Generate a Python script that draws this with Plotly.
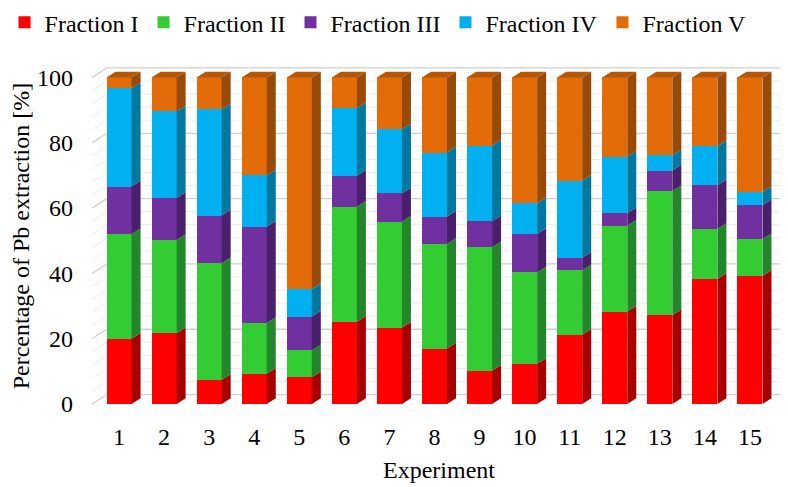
import plotly.graph_objects as go

experiments = list(range(1, 16))
fraction_names = ["Fraction I", "Fraction II", "Fraction III", "Fraction IV", "Fraction V"]

frac_I   = [20.0, 21.7, 7.4, 9.3, 8.2, 25.2, 23.4, 17.0, 10.2, 12.3, 21.2, 28.3, 27.2, 38.3, 39.2]
frac_II  = [32.0, 28.5, 35.7, 15.5, 8.2, 35.2, 32.4, 32.0, 37.8, 28.0, 19.7, 26.3, 38.0, 15.3, 11.3]
frac_III = [14.6, 12.9, 14.6, 29.5, 10.4, 9.5, 8.7, 8.4, 8.0, 11.8, 3.9, 3.8, 6.3, 13.4, 10.4]
frac_IV  = [30.1, 26.5, 32.5, 15.7, 8.4, 20.7, 19.6, 19.6, 23.1, 9.4, 23.6, 17.3, 4.7, 11.9, 4.0]
frac_V   = [3.3, 10.4, 9.8, 30.0, 64.8, 9.4, 15.9, 23.0, 20.9, 38.5, 31.6, 24.3, 23.8, 21.1, 35.1]

y_ticks = [0, 20, 40, 60, 80, 100]

front_colors = ["#FF0000", "#33CC33", "#7030A0", "#00B0F0", "#E36C09"]
side_colors = ["#A80000", "#22862A", "#4A1F6C", "#00789F", "#994A06"]
top_color = "#B35809"

series = [frac_I, frac_II, frac_III, frac_IV, frac_V]

FONT = "Liberation Serif"
BAR_W = 0.555
DEPTH_X = 0.2     # bar depth, category units
DEPTH_Y = 1.75    # bar depth, value units
WALL_X = 0.33
WALL_Y = 2.9
X_MIN, X_MAX = 0.4, 15.8

fig = go.Figure()

# front faces
for name, vals, col in zip(fraction_names, series, front_colors):
    fig.add_trace(go.Bar(x=experiments, y=vals, name=name, width=BAR_W,
                         marker=dict(color=col, line=dict(width=0))))

# side faces (and top face on last fraction)
bases = [0.0] * len(experiments)
for k, (vals, scol) in enumerate(zip(series, side_colors)):
    xs, ys = [], []
    for i, x in enumerate(experiments):
        y0 = bases[i]
        y1 = y0 + vals[i]
        xr = x + BAR_W / 2
        xs += [xr, xr + DEPTH_X, xr + DEPTH_X, xr, xr, None]
        ys += [y0, y0 + DEPTH_Y, y1 + DEPTH_Y, y1, y0, None]
        bases[i] = y1
    fig.add_trace(go.Scatter(x=xs, y=ys, mode="lines", fill="toself",
                             fillcolor=scol, line=dict(width=0, color=scol),
                             showlegend=False, hoverinfo="skip"))

xs, ys = [], []
for i, x in enumerate(experiments):
    top = bases[i]
    xl = x - BAR_W / 2
    xr = x + BAR_W / 2
    xs += [xl, xl + DEPTH_X, xr + DEPTH_X, xr, xl, None]
    ys += [top, top + DEPTH_Y, top + DEPTH_Y, top, top, None]
fig.add_trace(go.Scatter(x=xs, y=ys, mode="lines", fill="toself",
                         fillcolor=top_color, line=dict(width=0, color=top_color),
                         showlegend=False, hoverinfo="skip"))

# back wall & side wall gridlines
shapes = []
for v in range(0, 101, 4):
    major = (v % 20 == 0)
    col = "#CFCFCF" if major else "#EBEBEB"
    wdt = 1.3 if major else 1
    shapes.append(dict(type="line", xref="x", yref="y", layer="below",
                       x0=X_MIN + WALL_X, x1=X_MAX, y0=v + WALL_Y, y1=v + WALL_Y,
                       line=dict(color=col, width=wdt)))
    shapes.append(dict(type="line", xref="x", yref="y", layer="below",
                       x0=X_MIN, x1=X_MIN + WALL_X, y0=v, y1=v + WALL_Y,
                       line=dict(color=col, width=wdt)))

# page body has an 8px margin, so the figure is 8px smaller than the window
fig.update_layout(
    barmode="stack",
    width=780, height=479,
    margin=dict(l=84, r=2, t=58, b=81, autoexpand=False),
    paper_bgcolor="white", plot_bgcolor="white",
    font=dict(family=FONT, size=24, color="black"),
    shapes=shapes,
    showlegend=True,
    legend=dict(orientation="h", x=-0.126, xanchor="left", y=1.194, yanchor="top",
                font=dict(family=FONT, size=24, color="black"),
                traceorder="normal", itemwidth=30, bgcolor="rgba(0,0,0,0)"),
    xaxis=dict(range=[X_MIN, X_MAX], tickvals=experiments,
               ticktext=[str(e) for e in experiments], automargin=False,
               showgrid=False, zeroline=False, showline=False, ticks="",
               ticklabelstandoff=14,
               title=dict(text="Experiment", font=dict(family=FONT, size=24), standoff=12)),
    yaxis=dict(range=[-0.6, 103.5], tickvals=y_ticks, automargin=False,
               showgrid=False, zeroline=False, showline=False, ticks="",
               ticklabelstandoff=18,
               title=dict(text="Percentage of Pb extraction [%]",
                          font=dict(family=FONT, size=24), standoff=8)),
)

fig.write_html("out.html")
